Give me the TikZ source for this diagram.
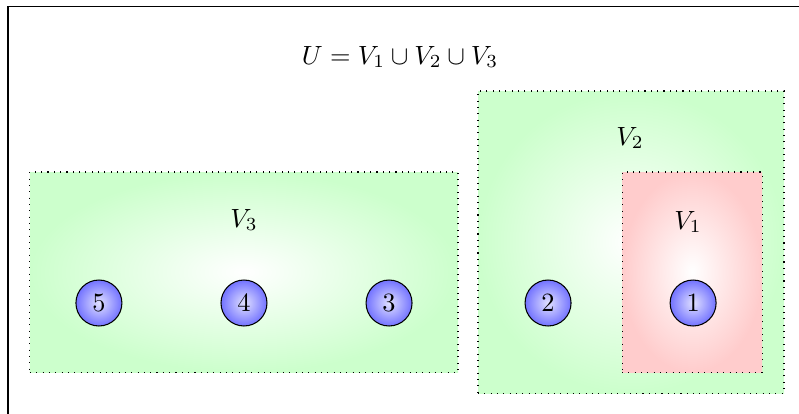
\documentclass[tikz,border=0pt]{standalone}
\usepackage{amsmath, amssymb}
\usepackage{xcolor}
\usepackage{tikz}
\usetikzlibrary{positioning}
\tikzset{
    region/.style={rectangle, draw=black, dotted, inner sep=0pt, shading=radial, inner color=white, outer color=green!20},
    inner region/.style={region, outer color=red!20},
    vertex/.style={circle, draw=black, minimum size=0.613cm, inner sep=0pt, shading=radial, inner color=blue!12, outer color=blue!55},
    setname/.style={inner sep=1pt}
}

\begin{document}
\begin{tikzpicture}
    \clip (0,0) rectangle (10.653,-5.507);
    \draw (0.107,-0.093) rectangle (11.5,-6.5);

    \node (title) at (5.333,-0.76) {$U = V_1 \cup V_2 \cup V_3$};

    % the three sets
    \node (vthree) [region, minimum width=5.707cm, minimum height=2.667cm] at (3.253,-3.627) {};
    \node (vtwo) [region, minimum width=4.08cm, minimum height=4.027cm] at (8.413,-3.227) {};
    \node (vone) [inner region, minimum width=1.867cm, minimum height=2.667cm] at (9.227,-3.627) {};

    \node (lthree) [setname] at (3.253,-2.933) {$V_3$};
    \node (ltwo) [setname] at (8.4,-1.84) {$V_2$};
    \node (lone) [setname] at (9.173,-2.96) {$V_1$};

    % vertices
    \node (n4) [vertex] at (3.253,-4.04) {4};
    \node (n5) [vertex, left=1.307cm of n4] {5};
    \node (n3) [vertex, right=1.307cm of n4] {3};
    \node (n2) [vertex] at (7.307,-4.04) {2};
    \node (n1) [vertex, right=1.307cm of n2] {1};
\end{tikzpicture}
\end{document}
